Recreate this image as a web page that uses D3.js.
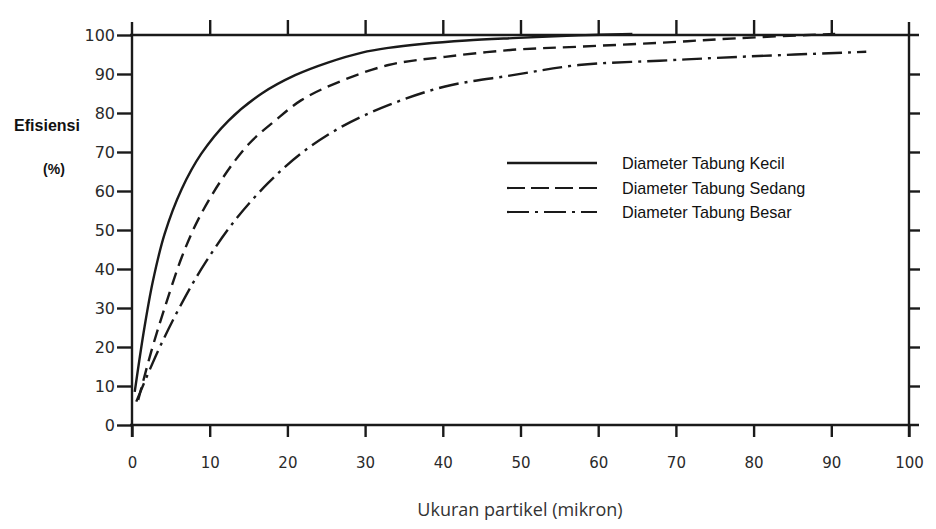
<!DOCTYPE html>
<html><head><meta charset="utf-8">
<script src="https://cdn.jsdelivr.net/npm/d3@7"></script>
<style>body{margin:0;background:#fff}svg{display:block}</style>
</head><body>
<svg id="c" width="936" height="529"></svg>
<script>
const xTicks = [0,10,20,30,40,50,60,70,80,90,100];
const yTicks = [0,10,20,30,40,50,60,70,80,90,100];
const seriesNames = ["Diameter Tabung Kecil","Diameter Tabung Sedang","Diameter Tabung Besar"];
const kecilX = [0.35,1.6,2.7,4.2,6.4,8.9,12.4,16.7,21,25.3,29.6,33,37.3,43,49,57.5,64.4];
const kecilY = [8.5,25,37,49,60.5,69.5,78,85,89.7,93,95.5,96.7,97.7,98.6,99.2,99.9,100.3];
const sedangX = [0.8,2.5,4.2,6.4,8.5,11.5,15,18.4,21.8,26.2,33,40.3,49,57.5,67.9,78.2,90.5];
const sedangY = [6.4,19,30,43,52.6,62.8,72,78,83.3,87.6,92.3,94.4,96.2,97,98,99.2,100.3];
const besarX = [0.55,3.4,6.4,9.4,13.3,17.5,21.8,27,33,40.3,49,57.5,67.9,78.2,94.5];
const besarY = [6,19.2,31.2,41.5,52.6,62,69.7,76.5,82,86.8,89.7,92.3,93.4,94.4,95.7];

const svg = d3.select("#c");
const x = d3.scaleLinear().domain([0,100]).range([132,909]);
const y = d3.scaleLinear().domain([0,100]).range([425,35]);
const ink = "#1a1a1a";
const tickFont = "'DejaVu Sans', sans-serif";

// axes frame lines
const frame = svg.append("g").attr("stroke", ink).attr("stroke-width", 2.4).attr("fill","none");
frame.append("line").attr("x1", x(0)).attr("x2", x(0)).attr("y1", 22).attr("y2", 437);
frame.append("line").attr("x1", x(100)).attr("x2", x(100)).attr("y1", 22).attr("y2", 437);
frame.append("line").attr("x1", x(0)-2).attr("x2", x(100)+10).attr("y1", y(0)).attr("y2", y(0));
frame.append("line").attr("x1", x(0)-2).attr("x2", x(100)+10).attr("y1", y(100)).attr("y2", y(100));

// left axis
const leftAx = svg.append("g").attr("transform", `translate(${x(0)},0)`)
  .call(d3.axisLeft(y).tickValues(yTicks).tickSize(15).tickPadding(2).tickFormat(d3.format("d")));
leftAx.select(".domain").remove();
leftAx.selectAll(".tick line").attr("stroke", ink).attr("stroke-width", 2.4);
leftAx.selectAll(".tick text").attr("font-family", tickFont).attr("font-size", 16).attr("fill", "#2a2a2a");

// bottom axis
const bottomAx = svg.append("g").attr("transform", `translate(0,${y(0)})`)
  .call(d3.axisBottom(x).tickValues(xTicks).tickSize(12).tickPadding(20).tickFormat(d3.format("d")));
bottomAx.select(".domain").remove();
bottomAx.selectAll(".tick line").attr("stroke", ink).attr("stroke-width", 2.4);
bottomAx.selectAll(".tick text").attr("font-family", tickFont).attr("font-size", 15).attr("fill", "#2a2a2a");

// top ticks
const topAx = svg.append("g").attr("transform", `translate(0,${y(100)})`)
  .call(d3.axisTop(x).tickValues(xTicks.slice(1,10)).tickSize(15).tickFormat(""));
topAx.select(".domain").remove();
topAx.selectAll(".tick line").attr("stroke", ink).attr("stroke-width", 2.4);

// right ticks
const rightAx = svg.append("g").attr("transform", `translate(${x(100)},0)`)
  .call(d3.axisRight(y).tickValues(yTicks.slice(1,10)).tickSize(11).tickFormat(""));
rightAx.select(".domain").remove();
rightAx.selectAll(".tick line").attr("stroke", ink).attr("stroke-width", 2.4);

// curves
const line = d3.line().x(d => x(d[0])).y(d => y(d[1])).curve(d3.curveCatmullRom.alpha(0.5));
const styles = [null, "13,7", "20,6,3,6"];
const data = [
  d3.zip(kecilX, kecilY),
  d3.zip(sedangX, sedangY),
  d3.zip(besarX, besarY)
];
data.forEach((d, i) => {
  svg.append("path").datum(d).attr("d", line)
    .attr("fill", "none").attr("stroke", ink).attr("stroke-width", 2.4)
    .attr("stroke-dasharray", styles[i]);
});

// legend
const legY = [163, 188, 212];
const legDash = [null, "18,6", "22,6,3,6"];
seriesNames.forEach((n, i) => {
  svg.append("line").attr("x1", 507).attr("x2", 597).attr("y1", legY[i]).attr("y2", legY[i])
    .attr("stroke", ink).attr("stroke-width", i === 0 ? 2.6 : 2.2).attr("stroke-dasharray", legDash[i]);
  svg.append("text").attr("x", 622).attr("y", legY[i]).attr("dy", "0.35em")
    .attr("font-family", "'Liberation Sans Narrow', 'Liberation Sans', Arial, sans-serif")
    .attr("font-size", 16.2).attr("fill", "#111").text(n);
});

// y title
svg.append("text").attr("x", 47).attr("y", 125).attr("dy", "0.35em").attr("text-anchor", "middle")
  .attr("font-family", "'Liberation Sans', Arial, sans-serif").attr("font-weight", "bold")
  .attr("font-size", 16).attr("fill", "#111").text("Efisiensi");
svg.append("text").attr("x", 54).attr("y", 169).attr("dy", "0.35em").attr("text-anchor", "middle")
  .attr("font-family", "'Liberation Sans', Arial, sans-serif").attr("font-weight", "bold")
  .attr("font-size", 14).attr("fill", "#111").text("(%)");

// x title
svg.append("text").attr("x", 520).attr("y", 510).attr("dy", "0.35em").attr("text-anchor", "middle")
  .attr("font-family", "'Open Sans', sans-serif")
  .attr("font-size", 18).attr("fill", "#333").text("Ukuran partikel (mikron)");
</script>
</body></html>
